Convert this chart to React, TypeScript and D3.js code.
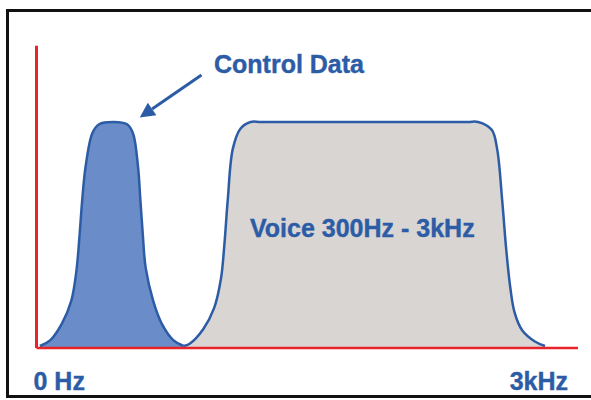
import React from "react";
import * as d3 from "d3";

// spectrum sketch: frequency in Hz, level relative to passband (1 = full)
const controlHz = [20, 80, 150, 205, 235, 255, 270, 290, 330, 370, 455, 535, 570, 600, 614, 628, 645, 690, 740, 810, 870];
const controlLevel = [0, 0.025, 0.1, 0.2, 0.33, 0.5, 0.65, 0.8, 0.95, 0.99, 1, 0.99, 0.95, 0.8, 0.65, 0.5, 0.35, 0.2, 0.1, 0.025, 0];

const voiceHz = [870, 905, 985, 1050, 1090, 1110, 1130, 1160, 1205, 1265, 1330, 1950, 2545, 2610, 2690, 2722, 2752, 2776, 2800, 2825, 2870, 2945, 3005];
const voiceLevel = [0, 0.01, 0.075, 0.17, 0.3, 0.45, 0.65, 0.88, 0.97, 1, 1, 1, 1, 1, 0.965, 0.88, 0.65, 0.43, 0.26, 0.15, 0.07, 0.02, 0];

const axisLabels = ["0 Hz", "3kHz"];
const annotations = ["Control Data", "Voice 300Hz - 3kHz"];

const BLUE = "#2d5ca6";
const FONT = "'Liberation Sans', Arial, sans-serif";

export default function App() {
  const width = 591;
  const height = 400;

  const x = d3.scaleLinear().domain([0, 3200]).range([36.5, 578]);
  const y = d3.scaleLinear().domain([0, 1]).range([346, 122]);

  const control = controlHz.map((hz, i) => [hz, controlLevel[i]] as [number, number]);
  const voice = voiceHz.map((hz, i) => [hz, voiceLevel[i]] as [number, number]);

  const curve = d3.curveCatmullRom.alpha(0.5);
  const area = d3
    .area<[number, number]>()
    .x((d) => x(d[0]))
    .y0(y(0) + 1)
    .y1((d) => y(d[1]))
    .curve(curve);
  const line = d3
    .line<[number, number]>()
    .x((d) => x(d[0]))
    .y((d) => y(d[1]))
    .curve(curve);

  // arrow from the label down to the control bump
  const arrowStart: [number, number] = [201.5, 75];
  const arrowTip: [number, number] = [x(610), y(1.02)];
  const ang = Math.atan2(arrowTip[1] - arrowStart[1], arrowTip[0] - arrowStart[0]);
  const headLen = 15;
  const headW = 7.5;
  const bx = arrowTip[0] - headLen * Math.cos(ang);
  const by = arrowTip[1] - headLen * Math.sin(ang);
  const head = [
    arrowTip,
    [bx + headW * Math.sin(ang), by - headW * Math.cos(ang)],
    [bx - headW * Math.sin(ang), by + headW * Math.cos(ang)],
  ];

  return (
    <svg
      width={width}
      height={height}
      style={{ position: "absolute", left: 0, top: 0, background: "#fff" }}
    >
      {/* frame */}
      <rect x={7.5} y={10.5} width={600} height={386} fill="#fff" stroke="#111" strokeWidth={3} />

      {/* curves */}
      <path d={area(voice) || ""} fill="#d9d5d2" />
      <path d={area(control) || ""} fill="#6a8cc8" />
      <path d={line(voice) || ""} fill="none" stroke={BLUE} strokeWidth={2.5} />
      <path d={line(control) || ""} fill="none" stroke={BLUE} strokeWidth={2.5} />

      {/* red axes */}
      <line x1={x(0)} x2={x(0)} y1={y(1.34)} y2={348} stroke="#e8232a" strokeWidth={3} />
      <line x1={x(0)} x2={x(3200)} y1={348} y2={348} stroke="#e8232a" strokeWidth={2.5} />

      {/* arrow */}
      <line
        x1={arrowStart[0]}
        y1={arrowStart[1]}
        x2={bx}
        y2={by}
        stroke={BLUE}
        strokeWidth={3}
      />
      <polygon points={head.map((p) => p.join(",")).join(" ")} fill={BLUE} />

      {/* texts */}
      <g fill={BLUE} fontFamily={FONT} fontWeight="bold" fontSize={25} stroke={BLUE} strokeWidth={0.4}>
        <text x={214} y={73}>{annotations[0]}</text>
        <text x={250} y={237}>{annotations[1]}</text>
        <text x={x(0) - 3} y={390}>{axisLabels[0]}</text>
        <text x={568} y={390} textAnchor="end">{axisLabels[1]}</text>
      </g>
    </svg>
  );
}
